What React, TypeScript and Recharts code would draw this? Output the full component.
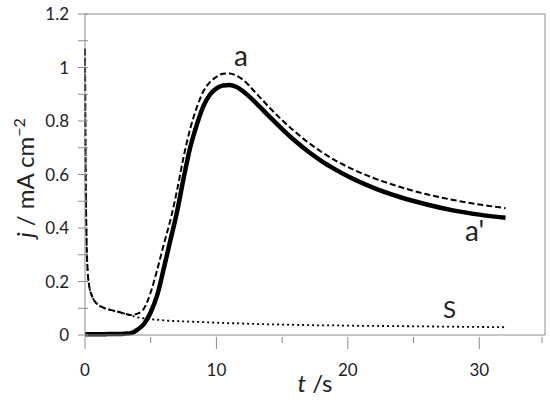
import { LineChart, Line, XAxis, YAxis, ReferenceLine, Label } from "recharts";

// time axis (s) shared by all curves
const times = [
  0, 0.05, 0.1, 0.2, 0.3, 0.5, 0.75, 1, 1.5, 2, 2.5, 3, 3.5, 4, 4.5, 5, 5.5, 6,
  6.5, 7, 7.5, 8, 8.5, 9, 9.5, 10, 10.5, 11, 11.5, 12, 13, 14, 15, 16, 17, 18,
  19, 20, 22, 24, 26, 28, 30, 32,
];

// curve a (dashed)
const curveA = [
  1.07, 0.6, 0.4, 0.24, 0.19, 0.15, 0.125, 0.113, 0.1, 0.093, 0.087, 0.08,
  0.075, 0.08, 0.1, 0.16, 0.245, 0.34, 0.43, 0.54, 0.665, 0.77, 0.85, 0.91,
  0.945, 0.965, 0.977, 0.978, 0.97, 0.955, 0.905, 0.852, 0.803, 0.759, 0.719,
  0.684, 0.654, 0.628, 0.586, 0.553, 0.526, 0.505, 0.488, 0.474,
];

// curve a' (solid, thick)
const curveA2 = [
  0.003, 0.003, 0.003, 0.003, 0.003, 0.003, 0.003, 0.003, 0.003, 0.004, 0.004,
  0.005, 0.007, 0.02, 0.042, 0.085, 0.15, 0.25, 0.355, 0.46, 0.585, 0.7, 0.785,
  0.855, 0.898, 0.922, 0.933, 0.935, 0.928, 0.912, 0.868, 0.818, 0.77, 0.725,
  0.685, 0.65, 0.62, 0.593, 0.549, 0.515, 0.488, 0.466, 0.45, 0.438,
];

// curve S (dotted)
const curveS = [
  1.07, 0.6, 0.4, 0.24, 0.19, 0.15, 0.125, 0.113, 0.1, 0.093, 0.087, 0.08,
  0.073, 0.066, 0.062, 0.059, 0.057, 0.055, 0.053, 0.052, 0.051, 0.05, 0.049,
  0.048, 0.047, 0.046, 0.045, 0.044, 0.044, 0.043, 0.041, 0.04, 0.039, 0.038,
  0.037, 0.036, 0.036, 0.035, 0.034, 0.033, 0.032, 0.031, 0.03, 0.029,
];

const xTicks = [0, 5, 10, 15, 20, 25, 30, 35];
const xLabels = [0, 10, 20, 30];
const yTicks = [0, 0.1, 0.2, 0.3, 0.4, 0.5, 0.6, 0.7, 0.8, 0.9, 1, 1.1, 1.2];
const yLabels = [0, 0.2, 0.4, 0.6, 0.8, 1, 1.2];

const dataA = times.map((t, i) => ({ t, j: curveA[i] }));
const dataA2 = times.map((t, i) => ({ t, j: curveA2[i] }));
const dataS = times.map((t, i) => ({ t, j: curveS[i] }));

const FONT = "Lato, 'Open Sans', sans-serif";
const AXIS = "#8c8c8c";

const XTick = (props: any) => {
  const { x, y, payload } = props;
  const v = payload.value;
  const show = xLabels.includes(v);
  return (
    <g>
      <line x1={x} x2={x} y1={y - 6} y2={y + (show ? 6 : 0)} stroke={AXIS} />
      {show && (
        <text x={x} y={y + 33} textAnchor="middle" fontSize={17} fill="#222" fontFamily={FONT}>
          {v}
        </text>
      )}
    </g>
  );
};

const YTick = (props: any) => {
  const { x, y, payload } = props;
  const v = payload.value;
  const show = yLabels.some((l) => Math.abs(l - v) < 1e-6);
  return (
    <g>
      <line x1={x - 5} x2={x + 5} y1={y} y2={y} stroke={AXIS} />
      {show && (
        <text x={x - 14} y={y + 6} textAnchor="end" fontSize={17} fill="#222" fontFamily={FONT}>
          {String(Math.round(v * 10) / 10)}
        </text>
      )}
    </g>
  );
};

export default function App() {
  return (
    <div style={{ position: "absolute", left: 0, top: 0, background: "#fff" }}>
      <LineChart
        width={550}
        height={403}
        margin={{ top: 14, right: 5, left: 0, bottom: 0 }}
      >
        <XAxis
          type="number"
          dataKey="t"
          domain={[0, 35]}
          ticks={xTicks}
          tick={<XTick />}
          tickLine={false}
          axisLine={{ stroke: AXIS }}
          height={68}
          allowDuplicatedCategory={false}
        >
          <Label
            content={() => (
              <text x={315} y={392} textAnchor="middle" fontSize={24} fill="#222" fontFamily={FONT}>
                <tspan fontStyle="italic">t</tspan>
                <tspan> /s</tspan>
              </text>
            )}
          />
        </XAxis>
        <YAxis
          type="number"
          domain={[0, 1.2]}
          ticks={yTicks}
          tick={<YTick />}
          tickLine={false}
          axisLine={{ stroke: AXIS }}
          width={85}
          tickSize={0}
        >
          <Label
            content={() => (
              <text
                x={34}
                y={178}
                textAnchor="middle"
                fontSize={24}
                fill="#222"
                fontFamily={FONT}
                transform="rotate(-90 34 178)"
              >
                <tspan fontStyle="italic">j</tspan>
                <tspan> / mA cm</tspan>
                <tspan dy={-9} fontSize={16}>−2</tspan>
              </text>
            )}
          />
        </YAxis>
        <ReferenceLine y={1.2} stroke={AXIS} />
        <ReferenceLine x={35} stroke={AXIS} />
        <Line
          data={dataS}
          dataKey="j"
          type="monotone"
          stroke="#000"
          strokeWidth={1.8}
          strokeDasharray="2 3"
          dot={false}
          isAnimationActive={false}
        />
        <Line
          data={dataA}
          dataKey="j"
          type="monotone"
          stroke="#000"
          strokeWidth={2}
          strokeDasharray="6 3"
          dot={false}
          isAnimationActive={false}
        />
        <Line
          data={dataA2}
          dataKey="j"
          type="monotone"
          stroke="#000"
          strokeWidth={4.5}
          dot={false}
          isAnimationActive={false}
        />
      </LineChart>
      <div style={{ position: "absolute", left: 234, top: 38, fontSize: 28, fontFamily: FONT, color: "#222" }}>a</div>
      <div style={{ position: "absolute", left: 465, top: 213, fontSize: 28, fontFamily: FONT, color: "#222" }}>a'</div>
      <div style={{ position: "absolute", left: 443, top: 294, fontSize: 24, fontFamily: FONT, color: "#222" }}>S</div>
    </div>
  );
}
